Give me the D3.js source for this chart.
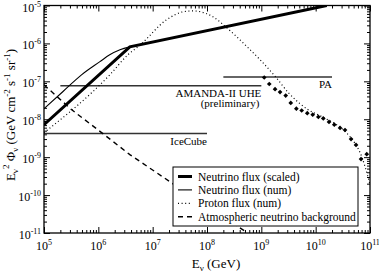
<!DOCTYPE html>
<html>
<head>
<meta charset="utf-8">
<script src="https://cdn.jsdelivr.net/npm/d3@7"></script>
<style>
  body { margin: 0; background: #fff; }
  svg text { font-family: "Liberation Serif", "DejaVu Serif", serif; fill: #000; }
</style>
</head>
<body>
<svg id="chart" width="379" height="273"></svg>
<script>
// energies in GeV, fluxes E^2 Phi in GeV cm^-2 s^-1 sr^-1
var scaledE = [1e5, 3.8e6, 1.6e10];
var scaledF = [7.2e-9, 8.1e-7, 1e-5];

var numE = [1e5, 2.24e5, 4.9e5, 1.07e6, 1.62e6, 2.5e6, 3.8e6];
var numF = [1.9e-8, 5.4e-8, 1.48e-7, 3.3e-7, 5.0e-7, 6.8e-7, 8.1e-7];

var protonE = [1e5, 1.62e6, 3.5e6, 5.9e6, 1.8e7, 3.6e7, 5.5e7, 1.3e8, 2.3e8, 5.5e8, 9.5e8,
               1.8e9, 3.2e9, 7.2e9, 1.3e10, 3.5e10, 5.2e10, 7.1e10, 8.1e10, 1e11];
var protonF = [4.4e-9, 1.48e-7, 5.0e-7, 9.1e-7, 4.2e-6, 6.8e-6, 7.2e-6, 5.0e-6, 2.6e-6, 8.1e-7, 3.7e-7,
               1.35e-7, 4.9e-8, 1.8e-8, 1.17e-8, 4.7e-9, 2.4e-9, 1.0e-9, 5.6e-10, 1.9e-10];

var atmE = [1e5, 3.2e5, 1.07e6, 3.8e6, 4.9e7, 5.5e8];
var atmF = [8.1e-8, 1.8e-8, 4.8e-9, 1.17e-9, 9.8e-11, 1.02e-11];

// PA data points
var paE = [1.13e9, 1.40e9, 1.79e9, 2.21e9, 2.81e9, 3.48e9, 4.41e9, 5.53e9, 7.01e9, 8.83e9,
           1.12e10, 1.38e10, 1.76e10, 2.20e10, 2.81e10, 3.47e10, 4.48e10, 5.53e10, 6.84e10, 8.71e10];
var paF = [1.26e-7, 8.5e-8, 6.2e-8, 5.2e-8, 4.2e-8, 2.7e-8, 1.9e-8, 1.7e-8, 1.45e-8, 1.32e-8,
           1.15e-8, 1.05e-8, 8.5e-9, 7.2e-9, 5.9e-9, 5.2e-9, 3.0e-9, 2.1e-9, 8.9e-10, 1.2e-9];

// sensitivity limits
var limitNames = [["AMANDA-II UHE", "(preliminary)"], ["IceCube"], ["PA"]];
var limitEmin = [2e5, 1e5, 2e8];
var limitEmax = [1e9, 1e8, 2e10];
var limitF = [7.6e-8, 4.2e-9, 1.3e-7];

var legendNames = ["Neutrino flux (scaled)", "Neutrino flux (num)", "Proton flux (num)", "Atmospheric neutrino background"];

var xTickExp = [5, 6, 7, 8, 9, 10, 11];
var yTickExp = [-11, -10, -9, -8, -7, -6, -5];

var svg = d3.select("#chart");
var L = 44, R = 370, T = 5.5, B = 233;

var x = d3.scaleLog().domain([1e5, 1e11]).range([L, R]);
var y = d3.scaleLog().domain([1e-11, 1e-5]).range([B, T]);

function minors(exps) {
    var m = [];
    for (var i = 0; i < exps.length - 1; i++) {
        for (var k = 2; k <= 9; k++) m.push(k * Math.pow(10, exps[i]));
    }
    return m;
}
var xMaj = xTickExp.map(function(e) { return Math.pow(10, e); });
var yMaj = yTickExp.map(function(e) { return Math.pow(10, e); });
var xMin = minors(xTickExp), yMin = minors(yTickExp);

svg.append("defs").append("clipPath").attr("id", "plot")
    .append("rect").attr("x", L).attr("y", T).attr("width", R - L).attr("height", B - T);

// axes with inward ticks on all four sides
function drawAxis(axisFn, scale, vals, len, tx, ty) {
    svg.append("g")
        .attr("transform", "translate(" + tx + "," + ty + ")")
        .call(axisFn(scale).tickValues(vals).tickSize(len).tickSizeOuter(0).tickFormat(""))
        .call(function(g) {
            g.select(".domain").remove();
            g.selectAll("line").attr("stroke", "#000").attr("stroke-width", 1);
        });
}
drawAxis(d3.axisBottom, x, xMaj, -6, 0, B);
drawAxis(d3.axisBottom, x, xMin, -3, 0, B);
drawAxis(d3.axisTop, x, xMaj, -6, 0, T);
drawAxis(d3.axisTop, x, xMin, -3, 0, T);
drawAxis(d3.axisLeft, y, yMaj, -6, L, 0);
drawAxis(d3.axisLeft, y, yMin, -3, L, 0);
drawAxis(d3.axisRight, y, yMaj, -6, R, 0);
drawAxis(d3.axisRight, y, yMin, -3, R, 0);

// tick labels
xTickExp.forEach(function(e) {
    var t = svg.append("text").attr("x", x(Math.pow(10, e))).attr("y", 250)
        .attr("text-anchor", "middle").attr("font-size", 12);
    t.append("tspan").text("10");
    t.append("tspan").attr("font-size", 8).attr("dy", -5).text(e);
});
yTickExp.forEach(function(e) {
    var t = svg.append("text").attr("x", 41).attr("y", y(Math.pow(10, e)) + 6)
        .attr("text-anchor", "end").attr("font-size", 12);
    t.append("tspan").text("10");
    t.append("tspan").attr("font-size", 8).attr("dy", -5).text(e);
});

// axis titles
var xt = svg.append("text").attr("x", 216).attr("y", 268).attr("text-anchor", "middle").attr("font-size", 13);
xt.append("tspan").text("E");
xt.append("tspan").attr("font-size", 9).attr("dy", 3).text("ν");
xt.append("tspan").attr("dy", -3).text(" (GeV)");

var yt = svg.append("text").attr("transform", "translate(15,115) rotate(-90)")
    .attr("text-anchor", "middle").attr("font-size", 13);
yt.append("tspan").text("E");
yt.append("tspan").attr("font-size", 9).attr("dy", 3).text("ν");
yt.append("tspan").attr("font-size", 9).attr("dy", -9).text("2");
yt.append("tspan").attr("dy", 6).text(" Φ");
yt.append("tspan").attr("font-size", 9).attr("dy", 3).text("ν");
yt.append("tspan").attr("dy", -3).text(" (GeV cm");
yt.append("tspan").attr("font-size", 9).attr("dy", -5).text("-2");
yt.append("tspan").attr("dy", 5).text(" s");
yt.append("tspan").attr("font-size", 9).attr("dy", -5).text("-1");
yt.append("tspan").attr("dy", 5).text(" sr");
yt.append("tspan").attr("font-size", 9).attr("dy", -5).text("-1");
yt.append("tspan").attr("dy", 5).text(")");

var plot = svg.append("g").attr("clip-path", "url(#plot)");

// limit lines
limitF.forEach(function(f, i) {
    plot.append("line")
        .attr("x1", x(limitEmin[i])).attr("x2", x(limitEmax[i]))
        .attr("y1", y(f)).attr("y2", y(f))
        .attr("stroke", "#333").attr("stroke-width", 1.5);
    limitNames[i].forEach(function(s, j) {
        svg.append("text")
            .attr("x", x(limitEmax[i]) - (j ? 2 : 0))
            .attr("y", y(f) + 11 + j * 10.5)
            .attr("text-anchor", "end").attr("font-size", 11)
            .text(s);
    });
});

var line = d3.line().x(function(d) { return x(d[0]); }).y(function(d) { return y(d[1]); });
function pairs(a, b) { return a.map(function(v, i) { return [v, b[i]]; }); }

var styles = [
    {w: 3, dash: null},
    {w: 1.1, dash: null},
    {w: 1.2, dash: "1,2.6"},
    {w: 1.4, dash: "5,4"}
];
var series = [pairs(scaledE, scaledF), pairs(numE, numF), pairs(protonE, protonF), pairs(atmE, atmF)];

[3, 2, 1, 0].forEach(function(i) {
    plot.append("path")
        .attr("d", line.curve(i == 0 || i == 3 ? d3.curveLinear : d3.curveMonotoneX)(series[i]))
        .attr("fill", "none").attr("stroke", "#000")
        .attr("stroke-width", styles[i].w)
        .attr("stroke-dasharray", styles[i].dash);
});

// PA points
svg.append("g").selectAll("path").data(pairs(paE, paF)).enter().append("path")
    .attr("d", d3.symbol().type(d3.symbolSquare).size(11))
    .attr("transform", function(d) { return "translate(" + x(d[0]) + "," + y(d[1]) + ") rotate(45)"; })
    .attr("fill", "#000");

// frame
svg.append("rect").attr("x", L).attr("y", T).attr("width", R - L).attr("height", B - T)
    .attr("fill", "none").attr("stroke", "#000").attr("stroke-width", 1.3);

// legend
var lg = svg.append("g");
lg.append("rect").attr("x", 173).attr("y", 167).attr("width", 185).attr("height", 59)
    .attr("fill", "#fff").attr("stroke", "#000").attr("stroke-width", 1);
legendNames.forEach(function(s, i) {
    var ly = 176.5 + i * 13.4;
    lg.append("line").attr("x1", 178).attr("x2", 192).attr("y1", ly).attr("y2", ly)
        .attr("stroke", "#000").attr("stroke-width", styles[i].w)
        .attr("stroke-dasharray", styles[i].dash);
    lg.append("text").attr("x", 198).attr("y", ly + 4).attr("font-size", 11.5).text(s);
});
</script>
</body>
</html>
